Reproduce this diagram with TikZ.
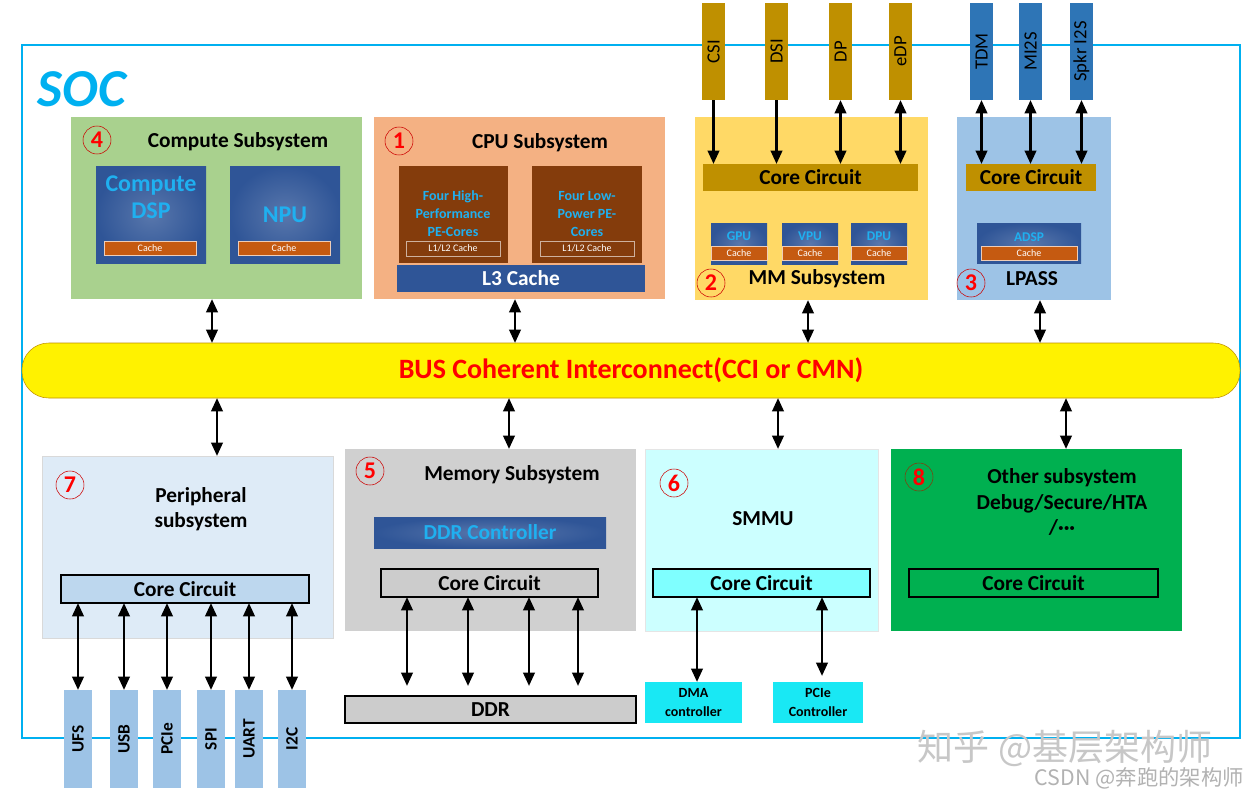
\documentclass[tikz,border=0pt]{standalone}
\usepackage{fontspec}
\setmainfont{Carlito}
\newfontfamily\cjk{Noto Sans CJK SC}
\usetikzlibrary{arrows.meta}
\definecolor{soc}{HTML}{00B0F0}
\definecolor{gold}{HTML}{BF9000}
\definecolor{pinblue}{HTML}{2E75B6}
\definecolor{compg}{HTML}{A9D18E}
\definecolor{cpuo}{HTML}{F4B183}
\definecolor{mmy}{HTML}{FFD966}
\definecolor{lpb}{HTML}{9DC3E6}
\definecolor{perb}{HTML}{DEEBF7}
\definecolor{perc}{HTML}{BDD7EE}
\definecolor{memg}{HTML}{D0D0D0}
\definecolor{smmu}{HTML}{CCFFFF}
\definecolor{smmuc}{HTML}{7FFFFF}
\definecolor{ctl}{HTML}{19E8F4}
\definecolor{othg}{HTML}{00B050}
\definecolor{brown}{HTML}{843C0C}
\definecolor{cacheo}{HTML}{C55A11}
\definecolor{txtc}{HTML}{1FB0F0}
\definecolor{dblue}{HTML}{2F5597}
\newcommand\bx[7]{\node[box,#6,minimum width={(#4-#2)*0.75pt},minimum height={(#5-#3)*0.75pt}] (#1) at ({(#2+#4)/2},{(#3+#5)/2}) {#7};}
\tikzset{
 box/.style={inner sep=0pt,outer sep=0pt,font=\bfseries,align=center},
 blu/.style={inner color=dblue!80!white,outer color=dblue,text=txtc},
 num/.style={circle,draw=red!80!black,thin,text=red,font=\bfseries\fontsize{18}{18}\selectfont,inner sep=0pt,minimum size=28pt*0.75},
 ttl/.style={font=\bfseries\fontsize{16}{19}\selectfont,align=center,inner sep=0pt},
 arr/.style={line width=2pt,{Triangle[length=10pt,width=8.5pt]}-{Triangle[length=10pt,width=8.5pt]}},
 arr1/.style={line width=2pt,-{Triangle[length=10pt,width=8.5pt]}},
 cc/.style={font=\bfseries\fontsize{16}{16}\selectfont},
 pin/.style={font=\bfseries\fontsize{13}{13}\selectfont},
 cache/.style={fill=cacheo,draw=white!70!cacheo,text=white,font=\fontsize{7.5}{7.5}\selectfont},
}
\begin{document}
\begin{tikzpicture}[x=0.75pt,y=-0.75pt]
\useasboundingbox (0,0) rectangle (1248,800);
\fill[white] (0,0) rectangle (1248,800);
% SOC frame
\draw[soc,line width=1.5pt] (22,45) rectangle (1240,738);
\node[text=soc,font=\bfseries\itshape\fontsize{40}{40}\selectfont,inner sep=0] (soct) at (82,89) {SOC};
% pins top
\foreach \n/\a/\t/\c in {csi/702/CSI/gold,dsi/765/DSI/gold,dp/829/DP/gold,edp/889/eDP/gold,tdm/970/TDM/pinblue,mis/1019/MI2S/pinblue,spk/1070/Spkr I2S/pinblue}{
 \bx{\n}{\a}{3}{\a+23}{100}{fill=\c,font=\normalfont\fontsize{14}{14}\selectfont}{\rotatebox{90}{\t}}
}
% Compute
\bx{comp}{71}{117}{362}{299}{fill=compg}{}
\node[num] (n4) at (97,140) {4};
\node[ttl] (compt) at (238,142) {Compute Subsystem};
\bx{dsp}{96}{166}{206}{263}{blu,font=\bfseries\fontsize{18}{20}\selectfont}{Compute\\DSP\\[6pt]}
\bx{npu}{230}{166}{340}{263}{blu,font=\bfseries\fontsize{18}{20}\selectfont}{NPU}
\bx{c1}{104}{241}{196}{255}{cache}{Cache}
\bx{c2}{238}{241}{330}{255}{cache}{Cache}
% CPU
\bx{cpu}{374}{117}{665}{299}{fill=cpuo}{}
\node[num] (n1) at (399,141) {1};
\node[ttl] (cput) at (540,143) {CPU Subsystem};
\bx{hp}{399}{166}{508}{263}{fill=brown}{}
\bx{lp}{532}{166}{642}{263}{fill=brown}{}
\node[text=txtc,font=\bfseries\fontsize{10.5}{13.5}\selectfont,align=center] (hpt) at (453,214) {Four High-\\Performance\\PE-Cores};
\node[text=txtc,font=\bfseries\fontsize{10.5}{13.5}\selectfont,align=center] (lpt) at (587,214) {Four Low-\\Power PE-\\Cores};
\bx{l1a}{406}{241}{500}{256}{fill=brown,draw=white!60!brown,text=white,font=\fontsize{7.5}{7.5}\selectfont}{L1/L2 Cache}
\bx{l1b}{540}{241}{634}{256}{fill=brown,draw=white!60!brown,text=white,font=\fontsize{7.5}{7.5}\selectfont}{L1/L2 Cache}
\bx{l3}{397}{265}{645}{292}{fill=dblue,text=white,font=\bfseries\fontsize{16}{16}\selectfont}{L3 Cache}
% MM
\bx{mm}{695}{117}{928}{300}{fill=mmy}{}
\bx{mmcc}{703}{164}{918}{191}{fill=gold,cc}{Core Circuit}
\foreach \n/\a/\t in {gpu/711/GPU,vpu/782/VPU,dpu/851/DPU}{
 \bx{\n}{\a}{223}{\a+56}{264}{blu}{}
 \node[text=txtc,font=\bfseries\fontsize{10}{10}\selectfont,inner sep=0] (\n t) at (\a+28,236) {\t};
 \bx{\n c}{\a+4}{246}{\a+52}{260}{cache}{Cache}
}
\node[num] (n2) at (711,283) {2};
\node[ttl] (mmt) at (817,279) {MM Subsystem};
% LPASS
\bx{lpass}{957}{117}{1111}{300}{fill=lpb}{}
\bx{lpcc}{966}{164}{1096}{191}{fill=gold,cc}{Core Circuit}
\bx{adsp}{977}{223}{1081}{263}{blu}{}
\node[text=txtc,font=\bfseries\fontsize{10}{10}\selectfont,inner sep=0] (adspt) at (1029,237) {ADSP};
\bx{adspc}{981}{246}{1077}{260}{cache}{Cache}
\node[num] (n3) at (971,283) {3};
\node[ttl] (lpt2) at (1032,279) {LPASS};
% pin arrows
\draw[arr1] (csi.south) -- (csi.south |- mmcc.north);
\draw[arr1] (dsi.south) -- (dsi.south |- mmcc.north);
\draw[arr] (dp.south) -- (dp.south |- mmcc.north);
\draw[arr] (edp.south) -- (edp.south |- mmcc.north);
\draw[arr] (tdm.south) -- (tdm.south |- lpcc.north);
\draw[arr] (mis.south) -- (mis.south |- lpcc.north);
\draw[arr] (spk.south) -- (spk.south |- lpcc.north);
% bus
\node[box,fill=yellow,draw=gold,rounded corners=20pt,minimum width={1218*0.75pt},minimum height={55*0.75pt},text=red,font=\bfseries\fontsize{21}{21}\selectfont] (bus) at (631,370.5) {BUS Coherent Interconnect(CCI or CMN)};
\coordinate (a1) at (212,0); \coordinate (a2) at (515,0); \coordinate (a3) at (808,0); \coordinate (a4) at (1040,0);
\draw[arr] (a1 |- comp.south) -- (a1 |- bus.north);
\draw[arr] (a2 |- cpu.south) -- (a2 |- bus.north);
\draw[arr] (a3 |- mm.south) -- (a3 |- bus.north);
\draw[arr] (a4 |- lpass.south) -- (a4 |- bus.north);
% Peripheral
\bx{per}{42}{456}{333}{638}{fill=perb,draw=black!15}{}
\node[num] (n7) at (70,485) {7};
\node[ttl] (pert) at (201,509) {Peripheral\\subsystem};
\bx{percc}{61}{575}{309}{603}{fill=perc,draw=black,thick,cc}{Core Circuit}
\foreach \n/\a/\t in {ufs/64/UFS,usb/110/USB,pcie/153/PCIe,spi/197/SPI,uart/235/UART,iic/278/I2C}{
 \bx{\n}{\a}{690}{\a+28}{788}{fill=lpb,pin}{\rotatebox{90}{\t}}
}
\foreach \n in {ufs,usb,pcie,spi,uart,iic}{\draw[arr] (\n.north |- percc.south) -- (\n.north);}
% Memory
\bx{mem}{345}{449}{636}{631}{fill=memg}{}
\node[num] (n5) at (370,471) {5};
\node[ttl] (memt) at (512,475) {Memory Subsystem};
\bx{ddrc}{374}{517}{606}{548}{blu,font=\bfseries\fontsize{16}{16}\selectfont}{DDR Controller}
\bx{memcc}{381}{569}{598}{597}{fill=black!20,draw=black,thick,cc}{Core Circuit}
\bx{ddr}{345}{696}{636}{723}{fill=black!20,draw=black,thick,cc}{DDR}
\foreach \x in {407,468,529,578}{\draw[arr] (\x,0 |- memcc.south) -- (\x,686);}
% SMMU
\bx{smmub}{645}{449}{878}{631}{fill=smmu,draw=black!10}{}
\node[num] (n6) at (674,483) {6};
\node[ttl] (smmut) at (763,519) {SMMU};
\bx{smcc}{653}{569}{870}{597}{fill=smmuc,draw=black,thick,cc}{Core Circuit}
\bx{dma}{645}{682}{742}{723}{fill=ctl,font=\bfseries\fontsize{10.5}{14}\selectfont}{DMA\\controller}
\bx{pcc}{773}{682}{863}{723}{fill=ctl,font=\bfseries\fontsize{10.5}{14}\selectfont}{PCIe\\Controller}
\draw[arr] (697,0 |- smcc.south) -- (697,0 |- dma.north);
\draw[arr] (822,0 |- smcc.south) -- (822,676);
% Other
\bx{oth}{891}{449}{1182}{631}{fill=othg}{}
\node[num,draw=brown] (n8) at (919,477) {8};
\node[ttl] (otht) at (1062,502) {Other subsystem\\Debug/Secure/HTA\\/···};
\bx{othcc}{909}{569}{1158}{597}{draw=black,line width=1.5pt,cc}{Core Circuit}
% bus down arrows
\coordinate (b1) at (217,0); \coordinate (b2) at (509,0); \coordinate (b3) at (778,0); \coordinate (b4) at (1066,0);
\draw[arr] (b1 |- bus.south) -- (b1 |- per.north);
\draw[arr] (b2 |- bus.south) -- (b2 |- mem.north);
\draw[arr] (b3 |- bus.south) -- (b3 |- smmub.north);
\draw[arr] (b4 |- bus.south) -- (b4 |- oth.north);
% watermarks
\node[text=black!22,font=\cjk\fontsize{27}{27}\selectfont,inner sep=0] (wm1) at (1065,748) {知乎 @基层架构师};
\node[text=black!30,font=\cjk\fontsize{16}{16}\selectfont,inner sep=0,anchor=east] (wm2) at (1244,778) {CSDN @奔跑的架构师};
\end{tikzpicture}
\end{document}
